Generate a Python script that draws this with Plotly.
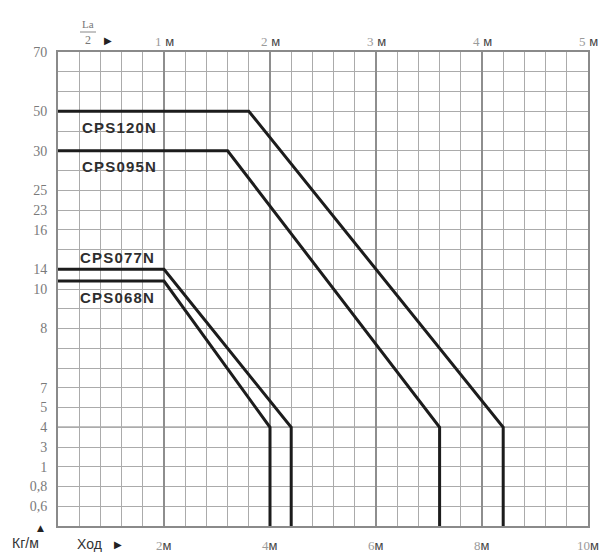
import plotly.graph_objects as go

# Series: stroke (m, bottom scale) and row position on the load scale
series_names = ["CPS120N", "CPS095N", "CPS077N", "CPS068N"]
knee_stroke = [3.6, 3.2, 2.0, 2.0]      # end of the flat section
max_stroke = [8.4, 7.2, 4.4, 4.0]       # maximum stroke
flat_row = [21, 19, 13, 12.4]           # row of the flat section
knee_row = 5                            # row where the slope ends ("4")

# Load scale (kg/m) rows and labels
y_rows = [1, 2, 3, 4, 5, 6, 7, 10, 12, 13, 15, 16, 17, 19, 21, 24]
y_labels = ["0,6", "0,8", "1", "3", "4", "5", "7", "8", "10", "14",
            "16", "23", "25", "30", "50", "70"]

# Stroke scale (bottom) and La/2 scale (top), in metres
bottom_ticks = [2, 4, 6, 8, 10]
top_ticks = [1, 2, 3, 4, 5]

# Series label placement (left edge, in data units)
label_x = [0.42, 0.42, 0.38, 0.38]
label_y = [20.2, 18.2, 13.6, 11.55]

LINE = "#1c1c1c"
GRID = "#ababab"
GRID_MAJOR = "#8e8e8e"
SERIF = "Liberation Serif"
SANS = "Liberation Sans"

W, H = 606, 552
ML, MR, MT, MB = 58, 18, 52, 26


def px_x(p):
    return (p - ML) / (W - ML - MR)


def px_y(p):
    return (H - MB - p) / (H - MT - MB)


fig = go.Figure()

for i, name in enumerate(series_names):
    xs = [0, knee_stroke[i], max_stroke[i], max_stroke[i]]
    ys = [flat_row[i], flat_row[i], knee_row, 0]
    fig.add_trace(go.Scatter(
        x=xs, y=ys, mode="lines", name=name,
        line=dict(color=LINE, width=3), hoverinfo="skip", showlegend=False,
    ))
    fig.add_annotation(
        x=label_x[i], y=label_y[i], xref="x", yref="y",
        text=f"<span style='letter-spacing:1.2px'>{name}</span>",
        showarrow=False, xanchor="left", yanchor="middle",
        font=dict(family=SANS, size=15, color="#2e2e2e", weight="bold"),
    )

# darker reference line at the "4" row
fig.add_shape(type="line", xref="paper", yref="y", x0=0, x1=1,
              y0=knee_row, y1=knee_row,
              line=dict(color="#858585", width=1.6), layer="below")

# bottom stroke labels
for v in bottom_ticks:
    fig.add_annotation(
        x=v, y=0, xref="x", yref="paper", yshift=-19,
        text=f"<span style='font-family:{SERIF};color:#9a9a9a'>{v}</span>"
             f"<span style='color:#444'>м</span>",
        showarrow=False, xanchor="center", yanchor="middle",
        font=dict(family=SANS, size=13),
    )

# top La/2 labels
for v in top_ticks:
    fig.add_annotation(
        x=2 * v, y=1, xref="x", yref="paper", yshift=11,
        text=f"<span style='font-family:{SERIF};color:#9a9a9a'>{v}</span> "
             f"<span style='color:#444'>м</span>",
        showarrow=False, xanchor="center", yanchor="middle",
        font=dict(family=SANS, size=13),
    )

# La/2 fraction with arrow
fig.add_annotation(x=px_x(88), y=px_y(24), xref="paper", yref="paper",
                   xanchor="center", yanchor="middle", showarrow=False,
                   text="La", font=dict(family=SERIF, size=11, color="#777"))
fig.add_shape(type="line", xref="paper", yref="paper",
              x0=px_x(80), x1=px_x(96), y0=px_y(32), y1=px_y(32),
              line=dict(color="#888", width=1))
fig.add_annotation(x=px_x(88), y=px_y(40), xref="paper", yref="paper",
                   xanchor="center", yanchor="middle", showarrow=False,
                   text="2", font=dict(family=SERIF, size=12, color="#777"))
fig.add_annotation(x=px_x(108), y=px_y(40), xref="paper", yref="paper",
                   xanchor="center", yanchor="middle", showarrow=False,
                   text="▶", font=dict(family="DejaVu Sans", size=10, color="#222"))

# axis captions
fig.add_annotation(x=px_x(25), y=px_y(543), xref="paper", yref="paper",
                   xanchor="center", yanchor="middle", showarrow=False,
                   text="Кг/м", font=dict(family=SANS, size=14, color="#333"))
fig.add_annotation(x=px_x(40), y=px_y(528), xref="paper", yref="paper",
                   xanchor="center", yanchor="middle", showarrow=False,
                   text="▲", font=dict(family="DejaVu Sans", size=9, color="#222"))
fig.add_annotation(x=px_x(89), y=px_y(544), xref="paper", yref="paper",
                   xanchor="center", yanchor="middle", showarrow=False,
                   text="Ход", font=dict(family=SANS, size=14, color="#333"))
fig.add_annotation(x=px_x(118), y=px_y(544), xref="paper", yref="paper",
                   xanchor="center", yanchor="middle", showarrow=False,
                   text="▶", font=dict(family="DejaVu Sans", size=10, color="#222"))

fig.update_layout(
    width=W, height=H,
    margin=dict(l=ML, r=MR, t=MT, b=MB),
    paper_bgcolor="white", plot_bgcolor="white",
    xaxis=dict(
        range=[0, 10], dtick=2, tick0=0, showgrid=True, gridcolor=GRID_MAJOR,
        gridwidth=1.6, showticklabels=False, zeroline=False,
        showline=True, mirror=True, linecolor="#8a8a8a", linewidth=2,
        minor=dict(dtick=0.4, tick0=0, showgrid=True, gridcolor=GRID, gridwidth=1.3),
        fixedrange=True,
    ),
    yaxis=dict(
        range=[0, 24], tickmode="array", tickvals=y_rows, ticktext=y_labels,
        showgrid=False, zeroline=False, ticks="", ticklabelstandoff=6,
        tickfont=dict(family=SERIF, size=14, color="#7a7a7a"),
        showline=True, mirror=True, linecolor="#8a8a8a", linewidth=2,
        minor=dict(dtick=1, tick0=0, showgrid=True, gridcolor=GRID, gridwidth=1.3),
        fixedrange=True,
    ),
)

fig.write_html("out.html")
